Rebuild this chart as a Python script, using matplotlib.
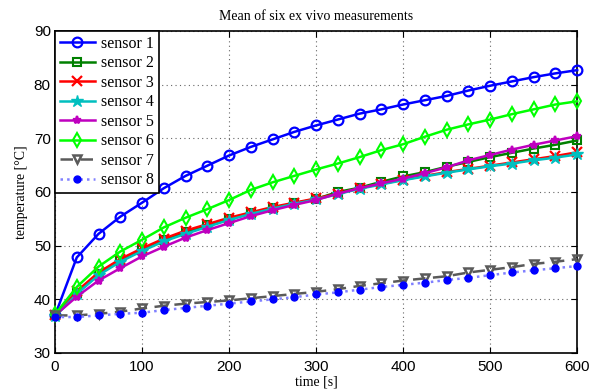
import matplotlib
matplotlib.use("Agg")
import matplotlib.pyplot as plt
import numpy as np

time_s = list(range(0, 601, 25))

sensor1 = [37.0, 47.8, 52.2, 55.4, 58.0, 60.7, 63.0, 64.9, 66.8, 68.4, 69.8, 71.2, 72.4,
           73.5, 74.6, 75.4, 76.3, 77.1, 77.9, 78.9, 79.8, 80.6, 81.4, 82.1, 82.7]
sensor2 = [37.0, 41.2, 44.8, 47.2, 49.2, 51.0, 52.5, 53.8, 55.0, 56.0, 57.0, 57.9, 58.7,
           60.0, 60.8, 61.9, 62.9, 63.7, 64.7, 65.6, 66.5, 67.3, 68.1, 68.8, 69.6]
sensor3 = [37.0, 41.5, 45.0, 47.5, 49.5, 51.3, 52.8, 54.0, 55.2, 56.2, 57.2, 58.0, 58.8,
           59.7, 60.7, 61.5, 62.3, 63.0, 63.7, 64.3, 64.9, 65.5, 66.1, 66.7, 67.4]
sensor4 = [36.8, 41.0, 44.5, 47.0, 49.0, 50.8, 52.2, 53.5, 54.8, 55.9, 56.9, 57.8, 58.6,
           59.6, 60.6, 61.4, 62.2, 62.9, 63.6, 64.2, 64.8, 65.3, 65.9, 66.4, 67.0]
sensor5 = [37.0, 40.5, 43.5, 45.8, 48.0, 49.8, 51.5, 52.9, 54.2, 55.5, 56.6, 57.6, 58.5,
           59.7, 60.7, 61.6, 62.5, 63.5, 64.6, 65.9, 66.9, 67.9, 68.8, 69.6, 70.4]
sensor6 = [37.2, 42.3, 46.1, 48.9, 51.1, 53.4, 55.2, 56.8, 58.5, 60.4, 61.8, 63.0, 64.2,
           65.3, 66.5, 67.8, 68.9, 70.3, 71.6, 72.6, 73.5, 74.5, 75.4, 76.3, 76.9]
sensor7 = [37.0, 37.0, 37.3, 37.7, 38.3, 38.8, 39.2, 39.5, 39.8, 40.2, 40.6, 41.0, 41.4,
           41.9, 42.5, 43.0, 43.5, 43.9, 44.3, 45.0, 45.5, 46.0, 46.6, 47.0, 47.5]
sensor8 = [36.7, 36.7, 37.0, 37.3, 37.5, 38.0, 38.4, 38.8, 39.2, 39.6, 40.0, 40.4, 40.9,
           41.3, 41.8, 42.3, 42.7, 43.1, 43.6, 44.0, 44.5, 45.0, 45.4, 45.8, 46.2]

labels = ["sensor 1", "sensor 2", "sensor 3", "sensor 4",
          "sensor 5", "sensor 6", "sensor 7", "sensor 8"]
x_ticks = [0, 100, 200, 300, 400, 500, 600]
y_ticks = [30, 40, 50, 60, 70, 80, 90]

serif = ["Liberation Serif", "DejaVu Serif"]
sans = ["Liberation Sans", "DejaVu Sans"]

fig = plt.figure(figsize=(6.0, 3.92), dpi=100)
ax = fig.add_axes([0.0917, 0.0995, 0.8703, 0.8215])

styles = [
    dict(color="#0000ff", marker="o", ls="-", ms=7, mfc="none", mew=1.6, lw=1.8),
    dict(color="#008000", marker="s", ls="-", ms=5.5, mfc="none", mew=1.5, lw=1.8),
    dict(color="#ff0000", marker="x", ls="-", ms=7, mew=1.6, lw=1.8),
    dict(color="#00bfbf", marker="*", ls="-", ms=9, mew=1.0, lw=1.8),
    dict(color="#bf00bf", marker="*", ls="-", ms=6, mew=1.6, lw=1.8),
    dict(color="#00ff00", marker="d", ls="-", ms=7.5, mfc="none", mew=1.5, lw=1.8),
    dict(color="#5a5a5a", marker="v", ls=(0, (5, 3)), ms=6, mfc="none", mew=1.8, lw=1.8),
    dict(color="#8080ff", marker="o", ls=":", ms=5, mfc="#0000ff", mec="#0000ff", lw=1.8),
]
series = [sensor1, sensor2, sensor3, sensor4, sensor5, sensor6, sensor7, sensor8]
for s, lab, st in zip(series, labels, styles):
    ax.plot(time_s, s, label=lab, clip_on=False, zorder=3, **st)

ax.set_xlim(0, 600)
ax.set_ylim(30, 90)
ax.set_xticks(x_ticks)
ax.set_yticks(y_ticks)
ax.grid(True, ls=(0, (1, 3)), color="#666666", lw=0.8)
ax.tick_params(direction="in", top=True, right=True, length=4, labelsize=11)
ax.tick_params(axis="x", pad=5)
ax.tick_params(axis="y", pad=3)
for lab in ax.get_xticklabels() + ax.get_yticklabels():
    lab.set_family(sans)
for sp in ax.spines.values():
    sp.set_linewidth(1.2)

ax.set_title("Mean of six ex vivo measurements", fontsize=10, family=serif, pad=8)
ax.set_xlabel("time [s]", fontsize=10, family=serif, labelpad=1)
ax.set_ylabel("temperature [°C]", fontsize=10, family=serif, labelpad=4)

leg = ax.legend(loc="upper left", prop={"family": serif, "size": 11.5}, borderaxespad=0,
                fancybox=False, edgecolor="black", framealpha=1, handlelength=2.2,
                labelspacing=0.22, borderpad=0.3, handletextpad=0.4)
leg.get_frame().set_linewidth(1.2)

fig.savefig("out.png", dpi=100)
